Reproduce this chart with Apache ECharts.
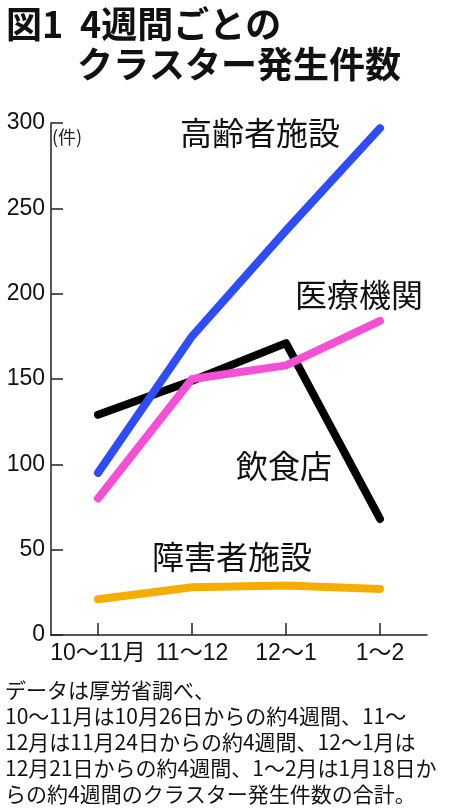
<!DOCTYPE html>
<html><head><meta charset="utf-8">
<script src="https://cdn.jsdelivr.net/npm/echarts@6/dist/echarts.min.js"></script>
<style>html,body{margin:0;padding:0;background:#fff}#c{width:450px;height:809px}</style>
</head><body><div id="c"></div>
<script>
const categories = ['10～11月', '11～12', '12～1', '1～2'];
const elderly = [95, 175, 237, 297];      // 高齢者施設
const medical = [80, 150, 158, 184];      // 医療機関
const restaurant = [129, 149, 171, 68];   // 飲食店
const disabled = [21, 28, 29, 27];        // 障害者施設
const yTicks = [0, 50, 100, 150, 200, 250, 300];

const chart = echarts.init(document.getElementById('c'), null, {renderer: 'canvas'});
const cjk = '"Noto Sans CJK JP", sans-serif';
const latin = '"Liberation Sans", Arial, "Noto Sans CJK JP", sans-serif';
function line(name, data, color) {
  return {name, type: 'line', data, symbol: 'none', smooth: false,
    lineStyle: {color, width: 8, cap: 'round', join: 'round'}, z: 3};
}
chart.setOption({
  animation: false,
  backgroundColor: '#fff',
  grid: {left: 51, right: 23, top: 123, bottom: 174},
  xAxis: {
    type: 'category', data: categories, boundaryGap: true,
    axisLine: {lineStyle: {color: '#222', width: 1.5}},
    axisTick: {show: true, inside: true, length: 12, interval: 0, alignWithLabel: true, lineStyle: {color: '#222', width: 1.5}},
    axisLabel: {color: '#111', fontSize: 23, fontFamily: latin, margin: 7, interval: 0, hideOverlap: false}
  },
  yAxis: {
    type: 'value', min: yTicks[0], max: yTicks[yTicks.length - 1], interval: 50,
    splitLine: {show: false},
    axisLine: {show: true, lineStyle: {color: '#222', width: 1.5}},
    axisTick: {show: true, inside: true, length: 12, lineStyle: {color: '#222', width: 1.5}},
    axisLabel: {color: '#111', fontSize: 23, fontFamily: latin, margin: 6}
  },
  series: [
    line('飲食店', restaurant, '#000000'),
    line('高齢者施設', elderly, '#2D4DF8'),
    line('医療機関', medical, '#F550D5'),
    line('障害者施設', disabled, '#F5AE00')
  ],
  graphic: [
    {type: 'text', left: 6, top: 6, style: {text: '図1', font: 'bold 36px ' + cjk, fill: '#111'}},
    {type: 'text', left: 80, top: 6, style: {text: '4週間ごとの', font: 'bold 36px ' + cjk, fill: '#111'}},
    {type: 'text', left: 77, top: 46, style: {text: 'クラスター発生件数', font: 'bold 36px ' + cjk, fill: '#111'}},
    {type: 'text', left: 52, top: 128, style: {text: '(件)', font: '18px ' + cjk, fill: '#222'}},
    {type: 'text', left: 180, top: 117, style: {text: '高齢者施設', font: '32px ' + cjk, fill: '#111'}},
    {type: 'text', left: 295, top: 279, style: {text: '医療機関', font: '32px ' + cjk, fill: '#111'}},
    {type: 'text', left: 236, top: 450, style: {text: '飲食店', font: '32px ' + cjk, fill: '#111'}},
    {type: 'text', left: 152, top: 541, style: {text: '障害者施設', font: '32px ' + cjk, fill: '#111'}},
    {type: 'text', left: 5, top: 677, style: {
      text: 'データは厚労省調べ、\n10～11月は10月26日からの約4週間、11～\n12月は11月24日からの約4週間、12～1月は\n12月21日からの約4週間、1～2月は1月18日か\nらの約4週間のクラスター発生件数の合計。',
      font: '21px ' + cjk, lineHeight: 26, fill: '#111'}}
  ]
});
</script></body></html>
